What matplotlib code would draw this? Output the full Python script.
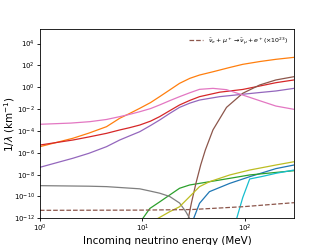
import numpy as np
import matplotlib.pyplot as plt

# energies (MeV) and log10(1/lambda)
e_orange = [1, 2.1, 3, 4.46, 6, 7.5, 9.4, 12, 14.7, 18.4, 23, 29, 36, 48.7, 70, 95, 140, 200, 300]
y_orange = [-5.44, -4.67, -4.2, -3.61, -2.84, -2.4, -1.93, -1.4, -0.86, -0.25, 0.36, 0.82, 1.12, 1.42, 1.8, 2.1, 2.36, 2.56, 2.74]

e_red = [1, 2.1, 3, 4.46, 6, 7.5, 9.4, 12, 14.7, 18.4, 23, 29, 36, 56.6, 95, 140, 200, 300]
y_red = [-5.29, -4.83, -4.55, -4.22, -3.91, -3.7, -3.46, -3.1, -2.69, -2.15, -1.62, -1.2, -0.86, -0.45, -0.2, 0.12, 0.42, 0.67]

e_purple = [1, 2.1, 3, 4.46, 6, 7.5, 9.4, 12, 14.7, 18.4, 23, 29, 36, 56.6, 95, 140, 200, 300]
y_purple = [-7.33, -6.5, -6.05, -5.44, -4.83, -4.45, -4.07, -3.5, -3.0, -2.4, -1.84, -1.45, -1.17, -0.86, -0.64, -0.48, -0.34, -0.1]

e_pink = [1, 2, 3.07, 4.46, 6, 7.5, 9.4, 12, 14.7, 18.4, 23, 29, 36, 48.7, 66, 95, 139, 200, 300]
y_pink = [-3.39, -3.28, -3.15, -2.95, -2.69, -2.48, -2.24, -1.95, -1.62, -1.23, -0.86, -0.5, -0.19, -0.1, -0.22, -0.71, -1.23, -1.72, -2.02]

e_brown = [28.0, 30, 33.2, 37, 41, 48.7, 66, 95, 139, 200, 300]
y_brown = [-12.0, -10.6, -8.8, -7.1, -5.75, -3.9, -1.84, -0.55, 0.21, 0.67, 0.97]

e_gray = [1, 3, 4.46, 9.4, 11.8, 14.7, 18.4, 23, 26.5, 28.8, 29.5]
y_gray = [-9.01, -9.06, -9.1, -9.3, -9.5, -9.7, -10.0, -10.6, -11.4, -12.0, -12.3]

e_green = [10.1, 11.8, 14.7, 18.4, 23, 28.8, 45, 71, 111, 200, 300]
y_green = [-12.0, -11.1, -10.5, -9.87, -9.25, -8.95, -8.65, -8.34, -8.03, -7.8, -7.64]

e_olive = [14.2, 18.4, 23, 28.8, 36, 45, 71, 111, 200, 300]
y_olive = [-12.0, -11.4, -10.94, -10.02, -9.1, -8.65, -8.03, -7.58, -7.12, -6.82]

e_blue = [31.6, 36, 45, 71, 111, 200, 300]
y_blue = [-12.0, -10.63, -9.56, -8.8, -8.19, -7.45, -7.12]

e_cyan = [83, 95, 111, 150, 200, 300]
y_cyan = [-12.0, -10.1, -8.4, -8.15, -7.88, -7.58]

e_dash = [1, 10, 30, 95, 200, 300]
y_dash = [-11.27, -11.25, -11.2, -10.94, -10.7, -10.57]

fig = plt.figure(figsize=(3.27, 2.45), dpi=100)
ax = fig.add_axes([0.122, 0.109, 0.777, 0.771])

lw = 0.9
ax.plot(e_blue, 10.0**np.array(y_blue), color='C0', lw=lw)
ax.plot(e_orange, 10.0**np.array(y_orange), color='C1', lw=lw)
ax.plot(e_green, 10.0**np.array(y_green), color='C2', lw=lw)
ax.plot(e_red, 10.0**np.array(y_red), color='C3', lw=lw)
ax.plot(e_purple, 10.0**np.array(y_purple), color='C4', lw=lw)
ax.plot(e_brown, 10.0**np.array(y_brown), color='C5', lw=lw)
ax.plot(e_pink, 10.0**np.array(y_pink), color='C6', lw=lw)
ax.plot(e_gray, 10.0**np.array(y_gray), color='C7', lw=lw)
ax.plot(e_olive, 10.0**np.array(y_olive), color='C8', lw=lw)
ax.plot(e_cyan, 10.0**np.array(y_cyan), color='C9', lw=lw)
ax.plot(e_dash, 10.0**np.array(y_dash), color='C5', lw=lw, ls='--',
        label=r'$\bar{\nu}_e+\mu^+\rightarrow\bar{\nu}_\mu+e^+(\times10^{23})$')

ax.set_xscale('log')
ax.set_yscale('log')
ax.set_xlim(1, 300)
ax.set_ylim(1e-12, 10**5.3)
ax.set_yticks([10.0**k for k in range(-12, 5, 2)])
ax.minorticks_off()
ax.tick_params(labelsize=5, length=2, width=0.6, pad=1.5)
for s in ax.spines.values():
    s.set_linewidth(0.6)

ax.set_xlabel('Incoming neutrino energy (MeV)', fontsize=7.5, labelpad=1)
ax.set_ylabel(r'1/$\lambda$ (km$^{-1}$)', fontsize=7.5)
ax.yaxis.set_label_coords(-0.09, 0.5)
ax.legend(loc='upper right', fontsize=4.5, frameon=False, handlelength=2.2)

plt.savefig('out.png', dpi=100)
